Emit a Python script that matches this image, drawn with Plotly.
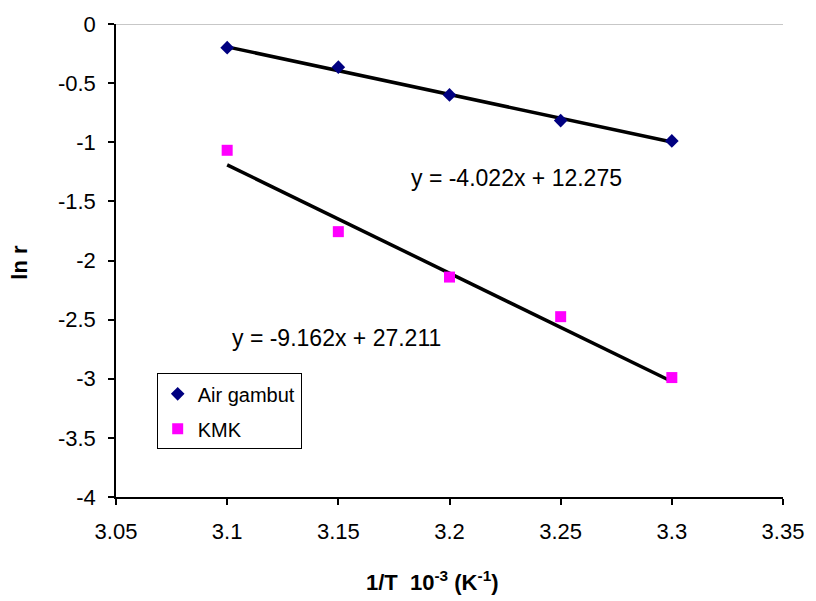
import numpy as np
import plotly.graph_objects as go

# Data
x_vals = [3.1, 3.15, 3.2, 3.25, 3.3]
air_gambut = [-0.20, -0.365, -0.60, -0.817, -0.989]
kmk = [-1.068, -1.756, -2.14, -2.475, -2.99]
fit_air = (-4.022, 12.275)
fit_kmk = (-9.162, 27.211)
eq_air = "y = -4.022x + 12.275"
eq_kmk = "y = -9.162x + 27.211"
x_ticks = [3.05, 3.1, 3.15, 3.2, 3.25, 3.3, 3.35]
y_ticks = [0, -0.5, -1, -1.5, -2, -2.5, -3, -3.5, -4]
x_title = "<b>1/T\u00a0 10<sup>-3</sup> (K<sup>-1</sup>)</b>"
y_title = "<b>ln r</b>"

FONT = "Liberation Sans, Arial, sans-serif"
xs = np.array([min(x_vals), max(x_vals)])

fig = go.Figure()
fig.add_trace(go.Scatter(x=xs, y=fit_air[0] * xs + fit_air[1], mode="lines",
                         line=dict(color="black", width=3.5), showlegend=False, hoverinfo="skip"))
fig.add_trace(go.Scatter(x=xs, y=fit_kmk[0] * xs + fit_kmk[1], mode="lines",
                         line=dict(color="black", width=3.5), showlegend=False, hoverinfo="skip"))
fig.add_trace(go.Scatter(x=x_vals, y=air_gambut, mode="markers", name="Air gambut",
                         legendgroup="a",
                         marker=dict(symbol="diamond", size=10.5, color="#000080")))
fig.add_trace(go.Scatter(x=x_vals, y=kmk, mode="markers", name="KMK",
                         legendgroup="b",
                         marker=dict(symbol="square", size=11, color="#FF00FF")))

fig.add_annotation(x=3.23, y=-1.30, xref="x", yref="y", text=eq_air, showarrow=False,
                   font=dict(family=FONT, size=23, color="black"))
fig.add_annotation(x=3.149, y=-2.655, xref="x", yref="y", text=eq_kmk, showarrow=False,
                   font=dict(family=FONT, size=23, color="black"))

# axis titles
fig.add_annotation(x=0.475, y=-0.178, xref="paper", yref="paper", text=x_title, showarrow=False,
                   xanchor="center", yanchor="middle", font=dict(family=FONT, size=22, color="black"))
fig.add_annotation(x=-0.145, y=0.496, xref="paper", yref="paper", text=y_title, showarrow=False,
                   textangle=-90, xanchor="center", yanchor="middle",
                   font=dict(family=FONT, size=22, color="black"))

# top gray border line
fig.add_shape(type="line", xref="paper", yref="y", x0=0, x1=1, y0=0, y1=0,
              line=dict(color="#909090", width=1))

fig.update_layout(
    width=816, height=601,
    margin=dict(l=116, r=28, t=19, b=104),
    paper_bgcolor="white", plot_bgcolor="white",
    font=dict(family=FONT, size=22, color="black"),
    legend=dict(x=0.061, y=0.2615, xanchor="left", yanchor="top",
                bordercolor="black", borderwidth=1, bgcolor="white",
                font=dict(family=FONT, size=20), tracegroupgap=6, itemwidth=30),
    xaxis=dict(range=[3.05, 3.35], tickvals=x_ticks, ticktext=[f"{v:g}" for v in x_ticks],
               showgrid=False, zeroline=False, showline=True, linecolor="black", linewidth=1.5,
               ticks="outside", ticklen=6, tickcolor="black", tickwidth=1.5,
               ticklabelstandoff=8),
    yaxis=dict(range=[-4, 0], tickvals=y_ticks, ticktext=[f"{v:g}" for v in y_ticks],
               showgrid=False, zeroline=False, showline=True, linecolor="black", linewidth=1.5,
               ticks="outside", ticklen=6, tickcolor="black", tickwidth=1.5,
               ticklabelstandoff=8),
)

fig.write_html("out.html")
